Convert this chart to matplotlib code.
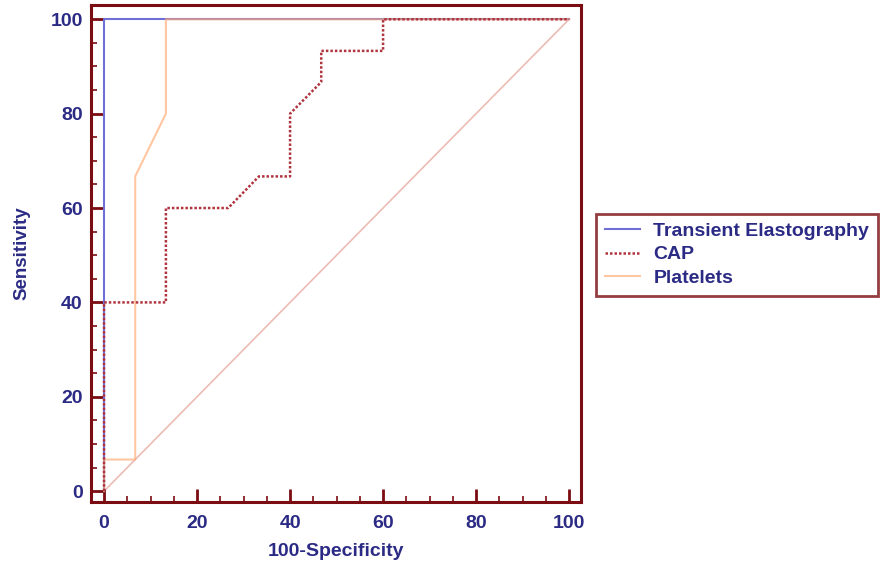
import matplotlib.pyplot as plt
from matplotlib.ticker import MultipleLocator

plt.rcParams['font.family'] = ['Liberation Sans', 'DejaVu Sans']

# ROC curve points: (100-Specificity, Sensitivity)
te_x = [0, 0, 100]
te_y = [0, 100, 100]

cap_x = [0, 0, 13.3, 13.3, 26.7, 33.3, 40, 40, 46.7, 46.7, 60, 60, 100]
cap_y = [0, 40, 40, 60, 60, 66.7, 66.7, 80, 86.7, 93.3, 93.3, 100, 100]

plt_x = [0, 0, 6.7, 6.7, 13.3, 13.3, 100]
plt_y = [0, 6.7, 6.7, 66.7, 80, 100, 100]

ref_x = [0, 100]
ref_y = [0, 100]

frame = '#7a0c12'
navy = '#2b2b85'

fig = plt.figure(figsize=(8.88, 5.67), dpi=100)
ax = fig.add_axes([0.1025, 0.1146, 0.552, 0.8764])

ax.plot(ref_x, ref_y, color='#ecbcb4', lw=1.2, zorder=1)
ax.plot(te_x, te_y, color='#6f6fd6', lw=1.5, label='Transient Elastography', zorder=2)
ax.plot(cap_x, cap_y, color='#b0343e', lw=1.8, ls=(0, (1, 0.8)), label='CAP', zorder=4)
ax.plot(plt_x, plt_y, color='#ffa870', lw=1.5, alpha=0.65, label='Platelets', zorder=3)

ax.set_xlim(-2.8, 102.6)
ax.set_ylim(-2.3, 103)

ax.xaxis.set_major_locator(MultipleLocator(20))
ax.xaxis.set_minor_locator(MultipleLocator(5))
ax.yaxis.set_major_locator(MultipleLocator(20))
ax.yaxis.set_minor_locator(MultipleLocator(5))

for s in ax.spines.values():
    s.set_color(frame)
    s.set_linewidth(2.2)

ax.tick_params(which='major', direction='in', length=9.5, width=2, color=frame,
               labelsize=14, labelcolor=navy)
ax.tick_params(axis='y', which='major', pad=6)
ax.tick_params(axis='x', which='major', pad=9.5)
ax.tick_params(which='minor', direction='in', length=4.5, width=1.2, color=frame)
for lab in ax.get_xticklabels() + ax.get_yticklabels():
    lab.set_fontweight('bold')

ax.set_xlabel('100-Specificity', fontsize=14, fontweight='bold', color=navy, labelpad=8)
ax.set_ylabel('Sensitivity', fontsize=13.5, fontweight='bold', color=navy, labelpad=14)

leg = ax.legend(loc='center left', bbox_to_anchor=(1.03, 0.498), frameon=True,
                fancybox=False, fontsize=14, handlelength=1.8, handletextpad=0.7,
                labelspacing=0.3, borderpad=0.45, borderaxespad=0)
leg.get_frame().set_edgecolor(frame)
leg.get_frame().set_linewidth(2)
for t in leg.get_texts():
    t.set_color(navy)
    t.set_fontweight('bold')

fig.savefig('out.png', dpi=100)
